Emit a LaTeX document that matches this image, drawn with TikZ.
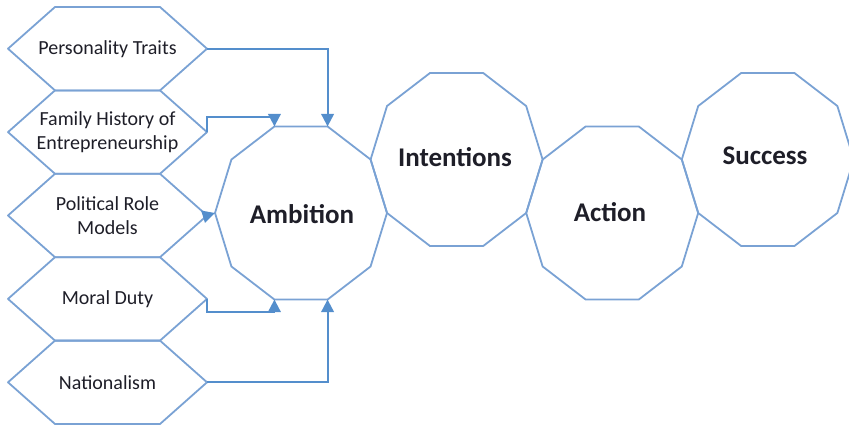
\documentclass[tikz,border=0pt]{standalone}
\usepackage{fontspec}
\setmainfont{Carlito}
\usetikzlibrary{shapes.geometric,arrows.meta}
\definecolor{shapeblue}{RGB}{122,162,212}
\definecolor{linkblue}{RGB}{84,142,204}
\definecolor{inktext}{RGB}{30,30,40}
\begin{document}
\begin{tikzpicture}[x=1pt,y=-1pt,
  hexbox/.style={minimum width=199pt, minimum height=83.4pt, inner sep=0pt, outer sep=0pt,
    align=center, text=inktext, font=\fontsize{20}{24.5}\selectfont},
  hexline/.style={draw=shapeblue, line width=1.8pt, line join=round},
  stage/.style={regular polygon, regular polygon sides=10, minimum size=172pt,
    inner sep=0pt, outer sep=0pt, yscale=1.058, draw=shapeblue, line width=1.8pt},
  stagetext/.style={text=inktext, inner sep=0pt, font=\bfseries\fontsize{27}{32}\selectfont},
  link/.style={draw=linkblue, line width=2pt, -{Triangle[length=12.5pt,width=12.5pt]}}
]
\useasboundingbox (0,0) rectangle (849,431);

% influence factors (stacked hexagons)
\node[hexbox] (pt)  at (107.5,48.7)  {Personality Traits};
\node[hexbox] (fh)  at (107.5,132.1) {Family History of\\Entrepreneurship};
\node[hexbox] (prm) at (107.5,215.5) {Political Role\\Models};
\node[hexbox] (md)  at (107.5,298.9) {Moral Duty};
\node[hexbox] (nat) at (107.5,382.3) {Nationalism};
\foreach \n in {pt,fh,prm,md,nat}
  \draw[hexline] (\n.west) -- ([xshift=47pt]\n.north west) -- ([xshift=-47pt]\n.north east)
    -- (\n.east) -- ([xshift=-47pt]\n.south east) -- ([xshift=47pt]\n.south west) -- cycle;

% stages (decagons sharing edges)
\node[stage] (amb) at (301,213)   {};
\node[stage] (int) at (456.6,159.5) {};
\node[stage] (act) at (612.2,213)   {};
\node[stage] (suc) at (767.8,159.5) {};
\node[stagetext] (ambt) at (302,214)   {Ambition};
\node[stagetext] (intt) at (455,157.5) {Intentions};
\node[stagetext] (actt) at (610,212)   {Action};
\node[stagetext] (suct) at (765,155.5) {Success};

% connectors into Ambition
\draw[link] (pt.east) -| (amb.72);
\draw[link] (fh.east) -- ++(0,-15) -| (amb.108);
\draw[link] (prm.east) -- (amb.180);
\draw[link] (md.east) -- ++(0,13) -| (amb.252);
\draw[link] (nat.east) -| (amb.288);
\end{tikzpicture}
\end{document}
